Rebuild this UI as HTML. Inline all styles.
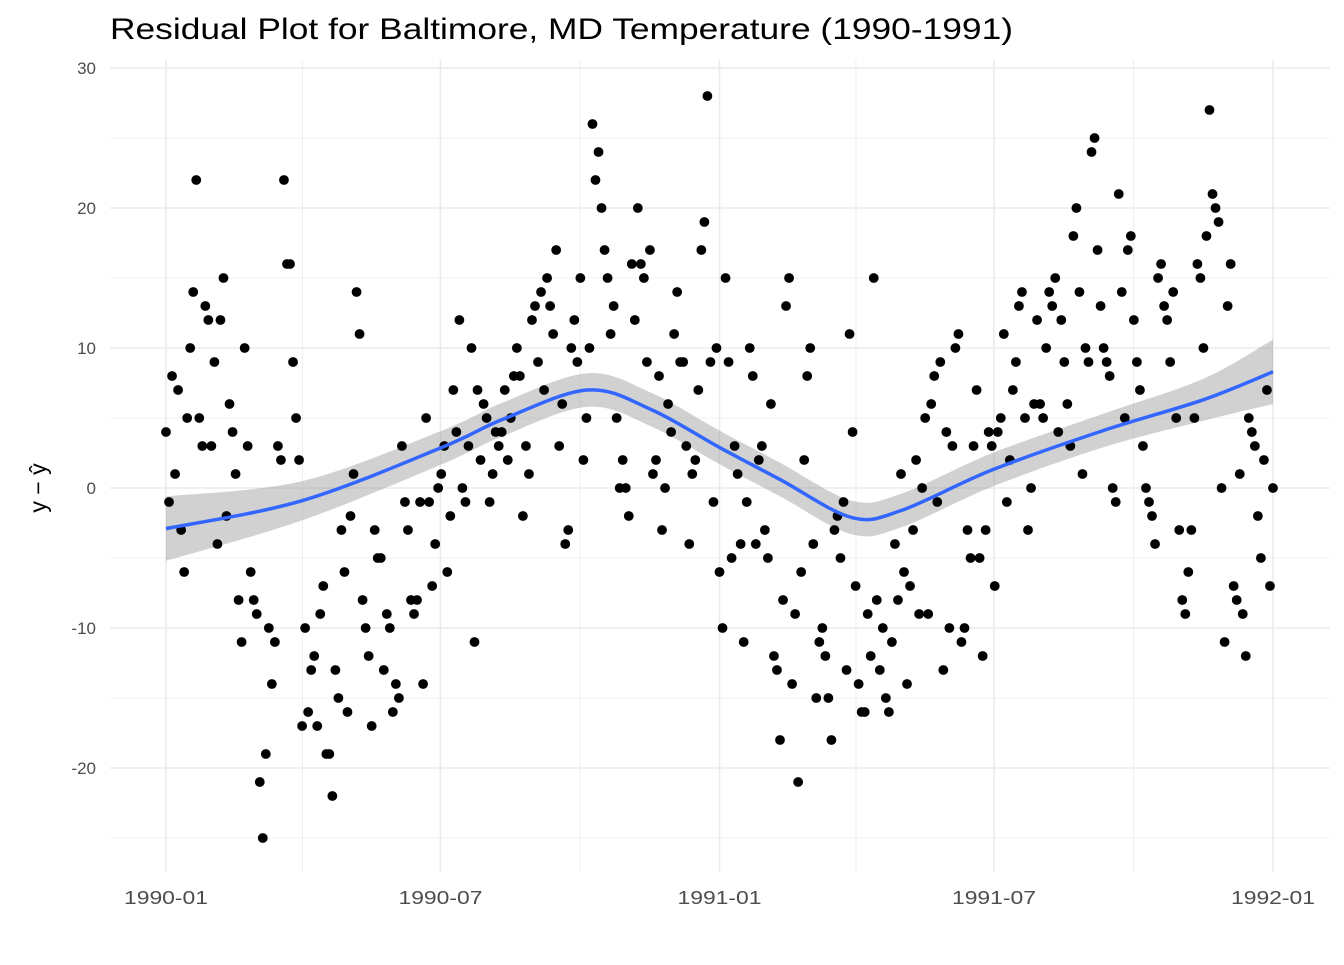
<!DOCTYPE html>
<html><head><meta charset="utf-8"><style>
html,body{margin:0;padding:0;background:#fff;}
svg text{font-family:"Liberation Sans",Arial,sans-serif;}
</style></head><body>
<svg id="chart" width="1344" height="960" xmlns="http://www.w3.org/2000/svg">
<text x="110" y="39" font-size="30" textLength="903" lengthAdjust="spacingAndGlyphs" fill="#000">Residual Plot for Baltimore, MD Temperature (1990-1991)</text>
<g id="grid"></g>
<g id="band"></g>
<g id="pts"></g>
<g id="smooth"></g>
<g id="axes"></g>
<text transform="translate(46,488) rotate(-90)" text-anchor="middle" font-size="23" fill="#000">y − ŷ</text>
</svg>
<script>
const yTicks=[-20,-10,0,10,20,30];
const xTickLabels=["1990-01","1990-07","1991-01","1991-07","1992-01"];
const xTickDays=[0,181,365,546,730];
const smoothDays=[0,90,182,222,278,320,365,405,452,485,545,618,684,730];
const smoothVals=[-2.9,-0.9,2.9,4.9,7.0,5.6,2.9,0.6,-2.1,-1.6,1.3,4.1,6.3,8.3];
const smoothSE=[2.3,1.4,1.2,1.2,1.2,1.2,1.2,1.2,1.2,1.2,1.2,1.2,1.5,2.3];
const residuals=[
4,-1,8,1,7,-3,-6,5,10,14,22,5,3,13,12,
3,9,-4,12,15,-2,6,4,1,-8,-11,10,3,-6,-8,
-9,-21,-25,-19,-10,-14,-11,3,2,22,16,16,9,5,2,-17,-10,
-16,-13,-12,-17,-9,-7,-19,-19,-22,-13,-15,-3,-6,-16,-2,1,14,11,
-8,-10,-12,-17,-3,-5,-5,-13,-9,-10,-16,-14,-15,3,-1,
-3,-8,-9,-8,-1,-14,5,-1,-7,-4,0,1,3,-6,-2,
7,4,12,0,-1,3,10,-11,7,2,6,5,-1,1,4,3,
4,7,2,5,8,10,8,-2,3,1,12,13,9,14,7,
15,13,11,17,3,6,-4,-3,10,12,9,15,2,5,10,
26,22,24,20,17,15,11,13,5,0,2,0,-2,16,12,
20,16,15,9,17,1,2,8,-3,0,6,4,11,14,9,
9,3,-4,1,2,7,17,19,28,9,-1,10,-6,-10,15,
9,-5,3,1,-4,-11,-1,10,8,-4,2,3,-3,-5,6,
-12,-13,-18,-8,13,15,-14,-9,-21,-6,2,8,10,-4,-15,
-11,-10,-12,-15,-18,-3,-2,-5,-1,-13,11,4,-7,-14,-16,
-16,-9,-12,15,-8,-13,-10,-15,-16,-11,-4,-8,1,-6,-14,
-7,-3,2,-9,0,5,-9,6,8,-1,9,-13,4,-10,3,
10,11,-11,-10,-3,-5,3,7,-5,-12,-3,4,3,-7,4,
5,11,-1,2,7,9,13,14,5,-3,0,6,12,6,5,
10,14,13,15,4,12,9,6,3,18,20,14,1,10,9,
24,25,17,13,10,9,8,0,-1,21,14,5,17,18,12,
9,7,3,0,-1,-2,-4,15,16,13,12,9,14,5,-3,
-8,-9,-6,-3,5,16,15,10,18,27,21,20,19,0,-11,
13,16,-7,-8,1,-9,-12,5,4,3,-2,-5,2,7,-7,0];
const NS="http://www.w3.org/2000/svg";
const X=d=>166+d*(1273-166)/730;
const Y=v=>488-v*14;
function mk(t,a,p){const e=document.createElementNS(NS,t);for(const k in a)e.setAttribute(k,a[k]);p.appendChild(e);return e;}
const grid=document.getElementById('grid');
for(let v=-25;v<=30;v+=5){
 const l=mk('line',{x1:110,x2:1330,y1:Y(v),y2:Y(v),stroke:'#ebebeb','stroke-width':v%10===0?1.6:0.8},grid);
 
 
}
const xg=[0,90,181,273,365,455,546,638,730];
xg.forEach((d,i)=>{
 const l=mk('line',{x1:X(d),x2:X(d),y1:60,y2:872,stroke:'#ebebeb','stroke-width':i%2===0?1.6:0.8},grid);
 
 
});
const axes=document.getElementById('axes');
yTicks.forEach(v=>{
 const t=mk('text',{x:96,y:Y(v)+6,'text-anchor':'end','font-size':17,fill:'#4d4d4d'},axes);
 t.textContent=v;
 
 
});
xTickLabels.forEach((s,i)=>{
 const t=mk('text',{x:X(xTickDays[i])-42,y:904,'font-size':18,textLength:84,lengthAdjust:'spacingAndGlyphs',fill:'#4d4d4d'},axes);
 t.textContent=s;
 
 
});
const pts=document.getElementById('pts');
const n=residuals.length;
residuals.forEach((v,i)=>{
 const c=mk('circle',{cx:X(i*730/(n-1)),cy:Y(v),r:4.9,fill:'#000'},pts);
 
 
});
function curve(vals){
 const P=smoothDays.map((d,i)=>[X(d),Y(vals[i])]);
 let s='';
 for(let i=0;i<P.length-1;i++){
  const p0=P[Math.max(0,i-1)],p1=P[i],p2=P[i+1],p3=P[Math.min(P.length-1,i+2)];
  if(i===0)s+='M'+p1[0]+','+p1[1];
  s+=' C'+(p1[0]+(p2[0]-p0[0])/6)+','+(p1[1]+(p2[1]-p0[1])/6)+' '+(p2[0]-(p3[0]-p1[0])/6)+','+(p2[1]-(p3[1]-p1[1])/6)+' '+p2[0]+','+p2[1];
 }
 return s;
}
const up=smoothVals.map((v,i)=>v+smoothSE[i]);
const lo=smoothVals.map((v,i)=>v-smoothSE[i]);
const band=document.getElementById('band');
const tmp=mk('path',{d:curve(up)},band);const tmp2=mk('path',{d:curve(lo)},band);
const A=[],B=[];
for(let k=0;k<=200;k++){const a=tmp.getPointAtLength(tmp.getTotalLength()*k/200);A.push(a.x+','+a.y);
 const b=tmp2.getPointAtLength(tmp2.getTotalLength()*k/200);B.push(b.x+','+b.y);}
tmp.remove();tmp2.remove();
const bp=mk('polygon',{points:A.concat(B.reverse()).join(' '),fill:'#999','fill-opacity':0.45},band);


const sl=mk('path',{d:curve(smoothVals),fill:'none',stroke:'#3366ff','stroke-width':3.5},document.getElementById('smooth'));


</script>
</body></html>
